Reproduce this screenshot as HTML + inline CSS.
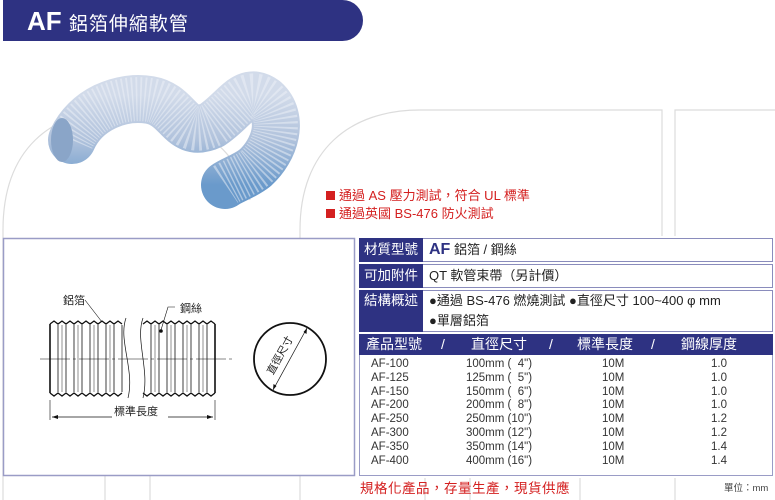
<!DOCTYPE html>
<html><head><meta charset="utf-8"><style>
body{margin:0;width:775px;height:500px;overflow:hidden;background:#fff;font-family:"Liberation Sans","Noto Sans CJK TC",sans-serif;position:relative}
.a{position:absolute}
.lab{position:absolute;left:359px;width:64px;background:#2e3282;color:#fff;font-size:13.5px;padding-left:5px;box-sizing:border-box}
.cont{position:absolute;left:423px;width:350px;border:1px solid #8a8cbc;border-left:none;box-sizing:border-box;font-size:13px;padding-left:6px;color:#222;background:#fff}
.row{position:absolute;font-size:11.5px;color:#333;height:13.7px;line-height:13.7px}
.row span{position:absolute;white-space:nowrap}
</style></head><body>
<svg class="a" style="left:0;top:0" width="775" height="500">
<defs>
<linearGradient id="g" x1="0" y1="0" x2="0" y2="1"><stop offset="0" stop-color="#d2dbea"/><stop offset="0.5" stop-color="#b0c2dc"/><stop offset="1" stop-color="#6a9acb"/></linearGradient>
</defs>
<g fill="none" stroke="#dcdcdc" stroke-width="1.2">
<path d="M3,500 L3,230 C3,150 50,110 120,110 C190,110 240,150 250,200"/>
<path d="M105,500 L105,290 C105,255 150,255 150,290 L150,500"/>
<path d="M300,500 L300,230 C300,150 350,110 420,110 L662,110 L662,260 L470,260 C440,260 425,280 425,310 L425,500"/>
<path d="M675,110 L780,110 L780,260 L675,260 Z"/>
<path d="M470,500 L470,290 L580,290 L580,500"/>
<path d="M675,500 L675,290 L780,290"/>
</g>
<path d="M72,140 C85,110 120,95 150,100 C180,105 180,140 212,125 C235,110 245,85 265,100 C285,118 275,150 255,168 C245,176 232,180 225,185" fill="none" stroke="url(#g)" stroke-width="48" stroke-linecap="round"/>
<path d="M72,140 C85,110 120,95 150,100 C180,105 180,140 212,125 C235,110 245,85 265,100 C285,118 275,150 255,168 C245,176 232,180 225,185" fill="none" stroke="#eef2f8" stroke-width="44" stroke-dasharray="1.5 2.5" opacity="0.5"/>
<ellipse cx="62" cy="140" rx="11" ry="22" fill="#8aa5c8"/>
<rect x="3.5" y="238.5" width="351" height="237" fill="#fff" stroke="#9a9cc6" stroke-width="1.5"/>
<g fill="none" stroke="#111">
<path d="M50,324 L50,393 M215,324 L215,393" stroke-width="1.6"/>
<path d="M50,324 l4,-3 l4,3 l4,-3 l4,3 l4,-3 l4,3 l4,-3 l4,3 l4,-3 l4,3 l4,-3 l4,3 l4,-3 l4,3 l4,-3 l4,3 l4,-3 l4,3" stroke-width="1.3"/>
<path d="M50,393 l4,3 l4,-3 l4,3 l4,-3 l4,3 l4,-3 l4,3 l4,-3 l4,3 l4,-3 l4,3 l4,-3 l4,3 l4,-3 l4,3 l4,-3 l4,3 l4,-3" stroke-width="1.3"/>
<path d="M143,324 l4,-3 l4,3 l4,-3 l4,3 l4,-3 l4,3 l4,-3 l4,3 l4,-3 l4,3 l4,-3 l4,3 l4,-3 l4,3 l4,-3 l4,3 l4,-3 l4,3" stroke-width="1.3"/>
<path d="M143,393 l4,3 l4,-3 l4,3 l4,-3 l4,3 l4,-3 l4,3 l4,-3 l4,3 l4,-3 l4,3 l4,-3 l4,3 l4,-3 l4,3 l4,-3 l4,3 l4,-3" stroke-width="1.3"/>
<g stroke-width="0.8">
<path d="M58,325V392M66,325V392M74,325V392M82,325V392M90,325V392M98,325V392M106,325V392M114,325V392M122,325V392"/>
<path d="M151,325V392M159,325V392M167,325V392M175,325V392M183,325V392M191,325V392M199,325V392M207,325V392"/>
<path d="M62,325V392M78,325V392M94,325V392M110,325V392M155,325V392M171,325V392M187,325V392M203,325V392" stroke="#777"/>
</g>
<path d="M126,318 C118,340 135,370 128,398" stroke-width="0.7"/>
<path d="M143,318 C135,340 150,370 143,398" stroke-width="0.7"/>
<path d="M40,359H232" stroke-width="0.6" stroke-dasharray="30 3 3 3"/>
<path d="M85,300 L102,322" stroke-width="0.6"/>
<path d="M175,307 L168,307 L161,330" stroke-width="0.6"/>
<circle cx="161" cy="331" r="1.3" fill="#111"/>
<path d="M50,400V420M215,400V420" stroke-width="0.6"/>
<path d="M52,417H213" stroke-width="0.7"/>
<circle cx="290" cy="359" r="36" stroke-width="1.8"/>
<path d="M273,390 L307,328" stroke-width="0.7"/>
</g>
<path d="M52,417 l6,-2 v4z M213,417 l-6,-2 v4z M273,390 l0.5,-6 l3,2z M307,328 l-0.5,6 l-3,-2z" fill="#111"/>
<text x="63" y="304" font-size="11" fill="#222" font-family="Liberation Sans,Noto Sans CJK TC,sans-serif">鋁箔</text>
<text x="180" y="312" font-size="11" fill="#222" font-family="Liberation Sans,Noto Sans CJK TC,sans-serif">鋼絲</text>
<rect x="112" y="404" width="56" height="14" fill="#fff"/>
<text x="114" y="415" font-size="11" fill="#222" font-family="Liberation Sans,Noto Sans CJK TC,sans-serif">標準長度</text>
<text x="0" y="0" font-size="10.5" fill="#222" text-anchor="middle" transform="translate(283,357) rotate(-61)" font-family="Liberation Sans,Noto Sans CJK TC,sans-serif">直徑尺寸</text>
</svg>
<div class="a" style="left:3px;top:0;width:360px;height:41px;background:#2e3282;border-radius:0 22px 22px 0"></div>
<div class="a" style="left:27px;top:6px;color:#fff;font-size:26px;font-weight:bold;line-height:30px;font-family:'Liberation Sans',sans-serif">AF <span style="font-size:19px;font-weight:normal;letter-spacing:1px;font-family:'Liberation Sans','Noto Sans CJK TC',sans-serif">鋁箔伸縮軟管</span></div>
<div class="a" style="left:326px;top:187px;color:#d42020;font-size:13px;line-height:18px">
<div><span style="display:inline-block;width:9px;height:9px;background:#d42020;margin-right:4px"></span>通過 AS 壓力測試，符合 UL 標準</div>
<div><span style="display:inline-block;width:9px;height:9px;background:#d42020;margin-right:4px"></span>通過英國 BS-476 防火測試</div>
</div>
<div class="a" style="left:357px;top:236px;width:418px;height:242px;background:#fff"></div>
<div class="lab" style="top:238px;height:24px;line-height:24px">材質型號</div>
<div class="cont" style="top:238px;height:24px;line-height:22px"><b style="color:#2e3282;font-size:16px">AF</b> 鋁箔 / 鋼絲</div>
<div class="lab" style="top:264px;height:24px;line-height:24px">可加附件</div>
<div class="cont" style="top:264px;height:24px;line-height:22px">QT 軟管束帶（另計價）</div>
<div class="lab" style="top:290px;height:42px;line-height:20px;padding-top:1px">結構概述</div>
<div class="cont" style="top:290px;height:42px;line-height:20px">●通過 BS-476 燃燒測試 ●直徑尺寸 100~400 φ mm<br>●單層鋁箔</div>
<div class="a" style="left:359px;top:334px;width:414px;height:21px;background:#2e3282;color:#fff;font-size:14px;line-height:21px">
<span class="a" style="left:7px">產品型號</span><span class="a" style="left:82px">/</span><span class="a" style="left:112px">直徑尺寸</span><span class="a" style="left:190px">/</span><span class="a" style="left:218px">標準長度</span><span class="a" style="left:292px">/</span><span class="a" style="left:322px">鋼線厚度</span>
</div>
<div class="a" style="left:359px;top:355px;width:414px;height:121px;border:1.5px solid #9a9cc6;border-top:none;box-sizing:border-box"></div>
<div class="a" style="left:371px;top:358px;width:400px">
<div class="row" style="top:0"><span>AF-100</span><span style="left:95px">100mm (&nbsp;&nbsp;4")</span><span style="left:231px">10M</span><span style="left:340px">1.0</span></div>
<div class="row" style="top:13.8px"><span>AF-125</span><span style="left:95px">125mm (&nbsp;&nbsp;5")</span><span style="left:231px">10M</span><span style="left:340px">1.0</span></div>
<div class="row" style="top:27.6px"><span>AF-150</span><span style="left:95px">150mm (&nbsp;&nbsp;6")</span><span style="left:231px">10M</span><span style="left:340px">1.0</span></div>
<div class="row" style="top:41.4px"><span>AF-200</span><span style="left:95px">200mm (&nbsp;&nbsp;8")</span><span style="left:231px">10M</span><span style="left:340px">1.0</span></div>
<div class="row" style="top:55.2px"><span>AF-250</span><span style="left:95px">250mm (10")</span><span style="left:231px">10M</span><span style="left:340px">1.2</span></div>
<div class="row" style="top:69px"><span>AF-300</span><span style="left:95px">300mm (12")</span><span style="left:231px">10M</span><span style="left:340px">1.2</span></div>
<div class="row" style="top:82.8px"><span>AF-350</span><span style="left:95px">350mm (14")</span><span style="left:231px">10M</span><span style="left:340px">1.4</span></div>
<div class="row" style="top:96.6px"><span>AF-400</span><span style="left:95px">400mm (16")</span><span style="left:231px">10M</span><span style="left:340px">1.4</span></div>
</div>
<div class="a" style="left:360px;top:477px;color:#d42020;font-size:13.5px;letter-spacing:0.5px">規格化產品，存量生產，現貨供應</div>
<div class="a" style="left:724px;top:480px;color:#444;font-size:9.5px">單位：mm</div>
</body></html>
